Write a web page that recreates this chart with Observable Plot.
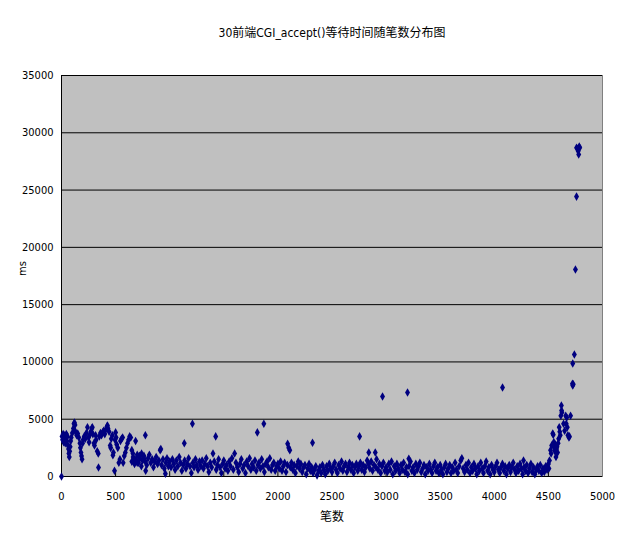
<!DOCTYPE html>
<html>
<head>
<meta charset="utf-8">
<script src="https://cdn.jsdelivr.net/npm/d3@7"></script>
<script src="https://cdn.jsdelivr.net/npm/@observablehq/plot@0.6"></script>
<style>
  html, body { margin: 0; padding: 0; background: #ffffff; }
  svg { display: block; }
</style>
</head>
<body>
<div id="chart"></div>
<script>
const title = "30前端CGI_accept()等待时间随笔数分布图";
const xLabel = "笔数";
const yLabel = "ms";
const xTicks = [0, 500, 1000, 1500, 2000, 2500, 3000, 3500, 4000, 4500, 5000];
const yTicks = [0, 5000, 10000, 15000, 20000, 25000, 30000, 35000];

// [record number, wait time ms]
const headPoints = [[0,0],[5,3500],[10,3200],[15,3700],[20,3000],[25,3400],[30,3600],[35,2900],[40,3300],[45,3700],[50,3100],[55,3500],[60,2700],[65,2400],[68,2000],[72,1700],[76,2200],[80,2600],[85,3100],[90,3400],[100,3800],[110,4200],[115,4600],[120,4700],[125,4500],[130,3900],[140,3600],[150,3750],[160,3400],[170,2900],[175,2500],[180,2100],[185,1800],[190,1500],[195,2900],[200,3200],[210,3500],[220,3300],[230,3800],[240,4300],[250,3400],[255,3000],[260,3600],[270,3900],[280,4200],[285,4300],[290,3700],[300,2900],[305,2700],[315,3600],[320,3200],[330,2200],[340,2000],[342,780],[350,3500],[360,3800],[370,3600],[380,3850],[390,4000],[400,3700],[410,4100],[420,4350],[425,4450],[430,4200],[440,3900],[450,2700],[455,2500],[460,3300],[470,3600],[475,1850],[480,2100],[490,500],[495,3200],[500,3850],[505,3400],[510,2800],[520,2500],[530,1200],[540,1500],[545,3100],[555,3300],[565,3400],[570,1200],[580,1800],[590,2100],[600,2500],[610,2900],[620,3200],[630,3500],[640,3400],[650,2300],[660,2000],[670,1500],[685,3100],[700,1200],[720,1800],[740,2000],[760,1600],[775,3600],[778,500]];

const bandPoints = [[650,1300],[662,1700],[675,1100],[688,1500],[700,1900],[712,1200],[725,1600],[738,900],[750,1400],[762,1800],[775,1300],[788,1000],[800,1600],[812,1900],[825,1200],[838,1500],[850,800],[862,1300],[875,1700],[888,1100],[900,1400],[912,2300],[918,2400],[925,1000],[938,1500],[950,700],[960,250],[965,1200],[975,1600],[988,900],
[1000,1300],[1012,800],[1025,1500],[1038,1100],[1050,600],[1062,1400],[1075,900],[1088,1700],[1100,1200],[1112,500],[1125,1000],[1135,2900],[1138,1400],[1150,700],[1162,1100],[1175,1600],[1188,900],[1200,300],[1210,4600],[1215,1200],[1225,800],[1238,1500],[1250,1000],[1262,600],[1275,1300],[1288,900],
[1300,1400],[1312,700],[1325,1100],[1338,1600],[1350,900],[1362,400],[1375,1200],[1388,800],[1400,2000],[1412,1300],[1425,3500],[1430,600],[1440,1000],[1452,1500],[1465,800],[1478,300],[1490,1100],[1500,1400],[1512,700],[1525,1000],[1538,500],[1550,1300],[1562,900],[1575,1600],[1588,600],[1600,2000],[1612,1200],[1625,800],[1638,400],[1650,1100],[1662,1500],[1675,700],[1688,1000],[1700,300],[1712,1300],[1725,900],[1738,1600],[1750,600],[1762,1100],[1775,800],[1788,1400],[1800,500],[1810,3850],[1815,1000],[1825,1200],[1838,700],[1850,1500],[1862,900],[1870,4600],[1875,400],[1888,1100],[1900,1300],[1912,800],[1925,1600],[1938,600],[1950,1000],[1962,1200],[1975,500],[1988,900],
[2000,1100],[2012,700],[2025,1300],[2038,500],[2050,900],[2062,1200],[2075,400],[2088,1000],[2090,2850],[2100,2500],[2110,2300],[2115,800],[2125,1200],[2138,600],[2150,1000],[2162,300],[2175,900],[2188,1300],[2200,700],[2212,1100],[2225,400],[2238,800],[2250,1000],[2262,200],[2275,700],[2288,1100],[2300,500],[2312,800],[2320,2950],[2325,300],[2338,600],[2350,900],[2362,100],[2375,500],[2388,800],[2400,300],[2412,1000],[2425,600],[2438,200],[2450,900],[2462,500],[2475,1100],[2488,700],
[2500,400],[2512,900],[2525,1200],[2538,600],[2550,300],[2562,1000],[2575,700],[2588,1300],[2600,500],[2612,900],[2625,1100],[2638,400],[2650,800],[2662,1200],[2675,600],[2688,1000],[2700,300],[2712,800],[2725,1100],[2738,500],[2750,900],[2755,3500],[2762,1200],[2775,600],[2788,1000],[2800,400],[2812,800],[2825,1400],[2838,1100],[2840,2100],[2850,700],[2862,1300],[2875,500],[2888,1000],[2900,2100],[2905,800],[2912,1500],[2925,600],[2938,1100],[2950,300],[2962,900],[2967,6980],[2975,1200],[2988,500],
[3000,800],[3012,400],[3025,1100],[3038,600],[3050,1300],[3062,200],[3075,900],[3088,500],[3100,1100],[3112,700],[3125,300],[3138,1000],[3150,600],[3162,1200],[3175,400],[3188,800],[3198,7330],[3200,200],[3210,1550],[3212,900],[3225,1300],[3238,500],[3250,800],[3262,300],[3275,1100],[3288,600],[3300,900],[3312,1200],[3325,400],[3338,700],[3350,1000],[3362,200],[3375,800],[3388,500],[3400,1100],[3412,600],[3425,300],[3438,900],[3450,1200],[3462,500],[3475,800],[3488,300],
[3500,1000],[3512,600],[3525,200],[3538,800],[3550,1100],[3562,400],[3575,700],[3588,1000],[3600,300],[3612,800],[3625,500],[3638,1200],[3650,600],[3662,300],[3675,900],[3690,1400],[3700,1600],[3712,700],[3725,400],[3738,1000],[3750,600],[3762,1200],[3775,300],[3788,800],[3800,500],[3812,1100],[3825,700],[3838,200],[3850,900],[3862,500],[3875,1200],[3888,700],[3900,300],[3912,900],[3925,1300],[3938,500],[3950,800],[3962,200],[3975,1000],[3988,600],
[4000,400],[4012,900],[4025,1200],[4038,600],[4050,300],[4062,800],[4076,7770],[4075,1100],[4088,500],[4100,900],[4112,200],[4125,700],[4138,1000],[4150,400],[4162,800],[4175,1200],[4188,600],[4200,300],[4212,900],[4225,500],[4238,1100],[4250,700],[4262,200],[4270,1400],[4275,800],[4288,500],[4300,1000],[4312,300],[4325,700],[4338,1100],[4350,400],[4362,800],[4375,200],[4388,600],[4400,900],[4412,500],[4425,1000],[4438,300],[4450,700],[4462,400],[4475,900],[4488,600]];

const tailPoints = [[4500,1100],[4505,700],[4510,1400],[4520,2300],[4525,2000],[4530,2700],[4540,3750],[4545,3650],[4550,3000],[4555,2500],[4560,2200],[4565,2800],[4570,1700],[4575,2400],[4580,2600],[4585,2100],[4590,2900],[4595,3300],[4600,4300],[4605,3900],[4610,3600],[4615,5300],[4620,6200],[4622,5750],[4625,5580],[4640,4600],[4650,4000],[4660,5300],[4665,4600],[4670,5150],[4675,4300],[4680,3600],[4690,3400],[4695,3500],[4705,5300],[4725,7940],[4722,8100],[4730,8050],[4725,9860],[4740,10650],[4750,18060],[4760,24430],[4760,28700],[4770,28600],[4775,28400],[4780,28100],[4790,28700],[4785,28800]];

const points = [...headPoints, ...bandPoints, ...tailPoints].map(([x, y]) => ({x, y}));

const font = '"Liberation Sans Narrow", "DejaVu Sans Condensed", "Noto Sans CJK SC", sans-serif';

const chart = Plot.plot({
  width: 624,
  height: 544,
  marginLeft: 61,
  marginRight: 22,
  marginTop: 75,
  marginBottom: 68,
  style: { fontFamily: font, fontSize: "11px", color: "#000", background: "#fff" },
  x: { domain: [0, 5000], ticks: xTicks, label: null },
  y: { domain: [0, 35000], ticks: yTicks, label: null },
  marks: [
    Plot.frame({ fill: "#c0c0c0", stroke: "#808080" }),
    Plot.ruleY(yTicks.filter(d => d > 0), { stroke: "#000", strokeWidth: 1 }),
    Plot.ruleX(xTicks.filter(d => d > 0 && d < 5000), { y1: 0, y2: 420, stroke: "#000" }),
    Plot.ruleY([0], { stroke: "#000" }),
    Plot.ruleX([0], { stroke: "#000" }),
    Plot.axisX({ ticks: xTicks, tickSize: 0, tickPadding: 16, fontSize: 11, tickFormat: d => String(d), label: null }),
    Plot.axisY({ ticks: yTicks, tickSize: 0, tickPadding: 8, fontSize: 11, tickFormat: d => String(d), label: null }),
    Plot.dot(points, { x: "x", y: "y", symbol: "diamond", r: 2.6, fill: "#000080", stroke: "none" }),
    Plot.text([title], { frameAnchor: "top", dy: -47, fontSize: 12, fill: "#000" }),
    Plot.text([xLabel], { frameAnchor: "bottom", dy: 44, fontSize: 12, fill: "#000" }),
    Plot.text([yLabel], { frameAnchor: "left", dx: -39, rotate: -90, fontSize: 11, fill: "#000" })
  ]
});
document.getElementById("chart").appendChild(chart);
</script>
</body>
</html>
